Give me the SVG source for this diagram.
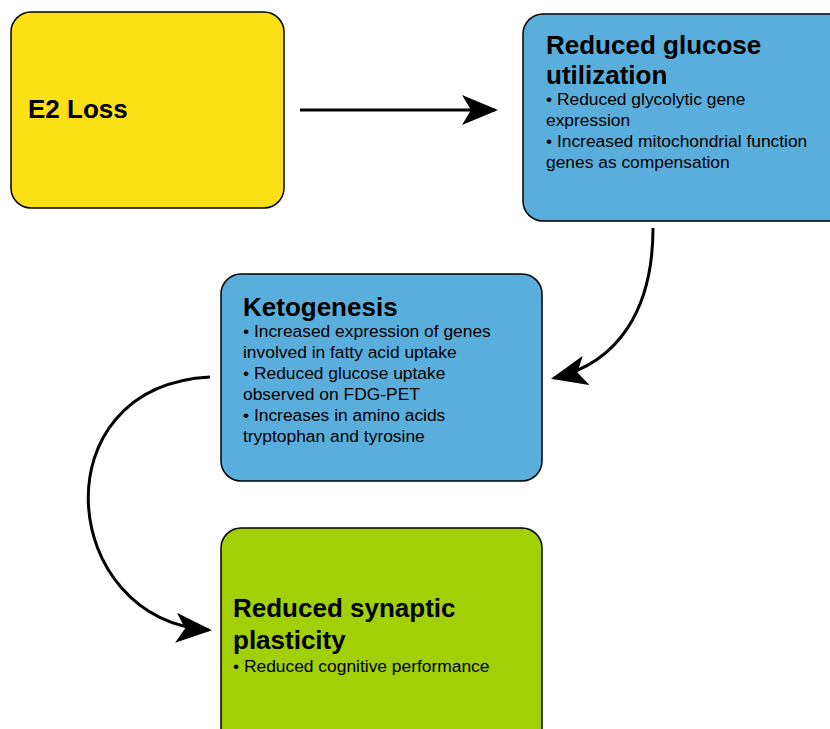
<svg xmlns="http://www.w3.org/2000/svg" width="830" height="729" viewBox="0 0 830 729">
<style>
.box{stroke:#000;stroke-width:1.5}
.yellow{fill:#FBE016}
.blue{fill:#5AAEDC}
.green{fill:#A2CF06}
.t{font-family:"Liberation Sans",Arial,sans-serif;font-weight:bold;font-size:26px;fill:#000}
.b{font-family:"Liberation Sans",Arial,sans-serif;font-size:17.4px;fill:#000}
.c{fill:none;stroke:#000;stroke-width:3}
</style>
<defs>
<marker id="ah" markerWidth="12" markerHeight="10" refX="11" refY="5" orient="auto" markerUnits="strokeWidth">
<path d="M0,0 L12,5 L0,10 L3,5 Z" fill="#000"/>
</marker>
</defs>
<rect width="830" height="729" fill="#fff"/>
<g id="e2loss">
<rect class="box yellow" x="11" y="12" width="273" height="196" rx="20"/>
<text class="t" x="28" y="118">E2 Loss</text>
</g>
<g id="glucose">
<rect class="box blue" x="523" y="14" width="330" height="207" rx="20"/>
<text class="t" x="546" y="54">Reduced glucose</text>
<text class="t" x="546" y="84">utilization</text>
<text class="b" x="546" y="105">• Reduced glycolytic gene</text>
<text class="b" x="546" y="126">expression</text>
<text class="b" x="546" y="147">• Increased mitochondrial function</text>
<text class="b" x="546" y="168">genes as compensation</text>
</g>
<g id="ketogenesis">
<rect class="box blue" x="221" y="274" width="321" height="207" rx="20"/>
<text class="t" x="243" y="316">Ketogenesis</text>
<text class="b" x="243" y="337">• Increased expression of genes</text>
<text class="b" x="243" y="358">involved in fatty acid uptake</text>
<text class="b" x="243" y="379">• Reduced glucose uptake</text>
<text class="b" x="243" y="400">observed on FDG-PET</text>
<text class="b" x="243" y="421">• Increases in amino acids</text>
<text class="b" x="243" y="442">tryptophan and tyrosine</text>
</g>
<g id="synaptic">
<rect class="box green" x="221" y="528" width="321" height="220" rx="20"/>
<text class="t" x="233" y="617">Reduced synaptic</text>
<text class="t" x="233" y="649">plasticity</text>
<text class="b" x="233" y="672">• Reduced cognitive performance</text>
</g>
<g id="connectors">
<path class="c" d="M300,110 L495,110" marker-end="url(#ah)"/>
<path class="c" d="M653,228 C653,310 618,363 554,378" marker-end="url(#ah)"/>
<path class="c" d="M210,377 C38,386 58,620 209,630" marker-end="url(#ah)"/>
</g>
</svg>
